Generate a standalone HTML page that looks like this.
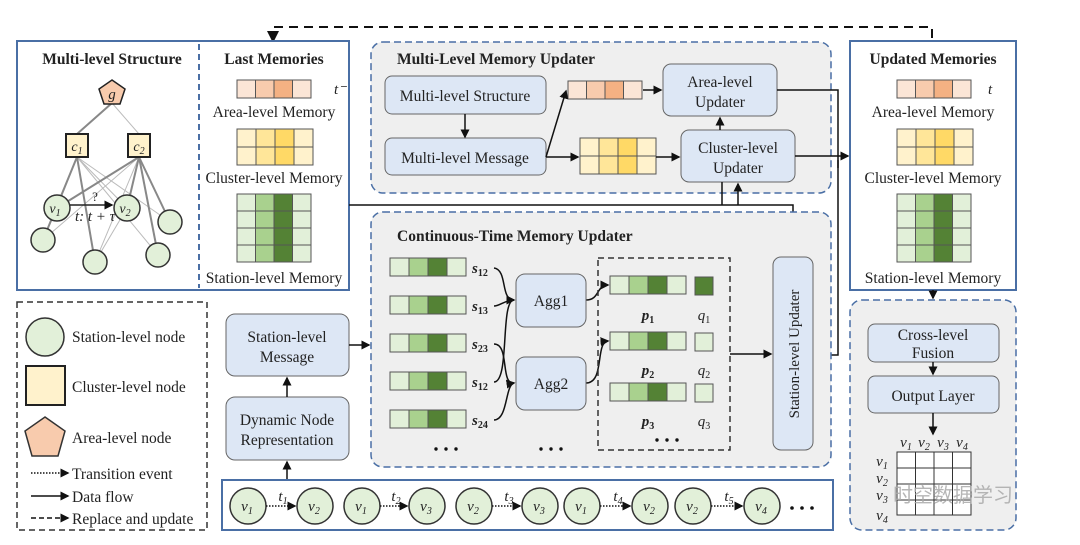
<!DOCTYPE html>
<html><head><meta charset="utf-8"><style>body{margin:0;background:#fff}svg{display:block}text{font-family:"Liberation Serif",serif;fill:#222}</style></head><body>
<svg width="1080" height="545" viewBox="0 0 1080 545" xmlns="http://www.w3.org/2000/svg">
<defs>
<marker id="a" markerWidth="6" markerHeight="6" refX="5" refY="3" orient="auto"><path d="M0,0L6,3L0,6z" fill="#111"/></marker>
<g id="gbar"><rect width="19" height="18" fill="#e2f0d9"/><rect x="19" width="19" height="18" fill="#a9d18e"/><rect x="38" width="19" height="18" fill="#548235"/><rect x="57" width="19" height="18" fill="#e2f0d9"/><path d="M0,0h76v18h-76zM19,0v18M38,0v18M57,0v18" fill="none" stroke="#555" stroke-width="1"/></g>
<g id="obar"><rect width="18.5" height="18" fill="#fbe5d6"/><rect x="18.5" width="18.5" height="18" fill="#f8cbad"/><rect x="37" width="18.5" height="18" fill="#f4b183"/><rect x="55.5" width="18.5" height="18" fill="#fbe5d6"/><path d="M0,0h74v18h-74zM18.5,0v18M37,0v18M55.5,0v18" fill="none" stroke="#555"/></g>
<g id="ybar"><rect width="19" height="36" fill="#fff2cc"/><rect x="19" width="19" height="36" fill="#ffe699"/><rect x="38" width="19" height="36" fill="#ffd966"/><rect x="57" width="19" height="36" fill="#fff2cc"/><path d="M0,0h76v36h-76zM19,0v36M38,0v36M57,0v36M0,18h76" fill="none" stroke="#555"/></g>
<g id="sgrid"><rect width="18.5" height="68" fill="#e2f0d9"/><rect x="18.5" width="18.5" height="68" fill="#a9d18e"/><rect x="37" width="18.5" height="68" fill="#548235"/><rect x="55.5" width="18.5" height="68" fill="#e2f0d9"/><path d="M0,0h74v68h-74zM18.5,0v68M37,0v68M55.5,0v68M0,17h74M0,34h74M0,51h74" fill="none" stroke="#555"/></g>
</defs>

<path d="M273,41V27H932V41" fill="none" stroke="#111" stroke-width="2" stroke-dasharray="9,6"/>
<path d="M273,33V41" stroke="#111" stroke-width="2" marker-end="url(#a)"/>

<rect x="17" y="41" width="332" height="249" fill="#fff" stroke="#4a6fa5" stroke-width="2"/>
<line x1="199" y1="44" x2="199" y2="288" stroke="#4a6fa5" stroke-width="2" stroke-dasharray="6,4"/>
<text x="112" y="64" font-size="15.5" font-weight="bold" text-anchor="middle">Multi-level Structure</text>
<text x="274" y="64" font-size="15.5" font-weight="bold" text-anchor="middle">Last Memories</text>
<g stroke="#bbb" stroke-width="1">
<line x1="77" y1="157" x2="57" y2="208"/><line x1="77" y1="157" x2="127" y2="208"/><line x1="77" y1="157" x2="158" y2="255"/><line x1="77" y1="157" x2="170" y2="222"/><line x1="139" y1="157" x2="43" y2="240"/><line x1="139" y1="157" x2="95" y2="262"/><line x1="139" y1="157" x2="57" y2="208"/><line x1="112" y1="103" x2="139" y2="134"/><line x1="57" y1="208" x2="43" y2="240"/><line x1="127" y1="208" x2="95" y2="262"/>
</g>
<g stroke="#888" stroke-width="2">
<line x1="112" y1="103" x2="77" y2="134"/><line x1="77" y1="157" x2="43" y2="240"/><line x1="77" y1="157" x2="95" y2="262"/><line x1="139" y1="157" x2="57" y2="208"/><line x1="139" y1="157" x2="127" y2="208"/><line x1="139" y1="157" x2="170" y2="222"/><line x1="139" y1="157" x2="158" y2="255"/>
</g>
<polygon points="112,80 125,89 120,104 104,104 99,89" fill="#f8cbad" stroke="#222" stroke-width="1.5"/>
<text x="112" y="99" font-size="15" font-style="italic" text-anchor="middle">g</text>
<rect x="66" y="134" width="22" height="23" fill="#fff2cc" stroke="#222" stroke-width="2"/>
<rect x="128" y="134" width="22" height="23" fill="#fff2cc" stroke="#222" stroke-width="2"/>
<text x="77" y="151" font-size="14" font-style="italic" text-anchor="middle">c<tspan font-size="10" dy="3">1</tspan></text>
<text x="139" y="151" font-size="14" font-style="italic" text-anchor="middle">c<tspan font-size="10" dy="3">2</tspan></text>
<g fill="#e2f0d9" stroke="#333" stroke-width="1.5">
<circle cx="57" cy="208" r="13"/><circle cx="127" cy="208" r="13"/><circle cx="43" cy="240" r="12"/><circle cx="95" cy="262" r="12"/><circle cx="158" cy="255" r="12"/><circle cx="170" cy="222" r="12"/>
</g>
<line x1="70" y1="205" x2="112" y2="205" stroke="#222" stroke-width="1.5" marker-end="url(#a)"/>
<text x="55" y="213" font-size="14" font-style="italic" text-anchor="middle">v<tspan font-size="10" dy="3">1</tspan></text>
<text x="125" y="213" font-size="14" font-style="italic" text-anchor="middle">v<tspan font-size="10" dy="3">2</tspan></text>
<text x="95" y="201" font-size="13" text-anchor="middle">?</text>
<text x="95" y="221" font-size="15" font-style="italic" text-anchor="middle">t: t + τ</text>
<use href="#obar" x="237" y="80"/>
<text x="334" y="94" font-size="15" font-style="italic">t⁻</text>
<text x="274" y="117" font-size="15.5" text-anchor="middle">Area-level Memory</text>
<use href="#ybar" x="237" y="129"/>
<text x="274" y="183" font-size="15.5" text-anchor="middle">Cluster-level Memory</text>
<use href="#sgrid" x="237" y="194"/>
<text x="274" y="283" font-size="15.5" text-anchor="middle">Station-level Memory</text>

<rect x="371" y="42" width="460" height="151" rx="12" fill="#efefef" stroke="#4a6fa5" stroke-width="1.5" stroke-dasharray="7,4"/>
<text x="397" y="64" font-size="15.5" font-weight="bold">Multi-Level Memory Updater</text>
<rect x="385" y="76" width="161" height="38" rx="7" fill="#dde7f5" stroke="#666"/>
<text x="465" y="101" font-size="15.5" text-anchor="middle">Multi-level Structure</text>
<rect x="385" y="138" width="161" height="37" rx="7" fill="#dde7f5" stroke="#666"/>
<text x="465" y="163" font-size="15.5" text-anchor="middle">Multi-level Message</text>
<line x1="465" y1="114" x2="465" y2="137" stroke="#111" stroke-width="1.5" marker-end="url(#a)"/>
<use href="#obar" x="568" y="81"/>
<use href="#ybar" x="580" y="138"/>
<path d="M546,157L566,91" stroke="#111" stroke-width="1.5" fill="none" marker-end="url(#a)"/>
<path d="M546,157H578" stroke="#111" stroke-width="1.5" marker-end="url(#a)"/>
<path d="M643,90H661" stroke="#111" stroke-width="1.5" marker-end="url(#a)"/>
<path d="M656,157H679" stroke="#111" stroke-width="1.5" marker-end="url(#a)"/>
<rect x="663" y="64" width="114" height="52" rx="8" fill="#dde7f5" stroke="#666"/>
<text x="720" y="87" font-size="15.5" text-anchor="middle">Area-level</text>
<text x="720" y="107" font-size="15.5" text-anchor="middle">Updater</text>
<rect x="681" y="130" width="114" height="52" rx="8" fill="#dde7f5" stroke="#666"/>
<text x="738" y="153" font-size="15.5" text-anchor="middle">Cluster-level</text>
<text x="738" y="173" font-size="15.5" text-anchor="middle">Updater</text>
<path d="M720,130V118" stroke="#111" stroke-width="1.5" marker-end="url(#a)"/>

<path d="M777,90H838V168" fill="none" stroke="#111" stroke-width="1.5"/>
<path d="M795,156H848" stroke="#111" stroke-width="1.5" marker-end="url(#a)"/>
<path d="M813,355H838V160" fill="none" stroke="#111" stroke-width="1.5"/>
<path d="M349,205H793V255" fill="none" stroke="#111" stroke-width="1.5" marker-end="url(#a)"/>
<path d="M722,205V182" stroke="#111" stroke-width="1.5"/>
<path d="M738,205V184" stroke="#111" stroke-width="1.5" marker-end="url(#a)"/>

<rect x="850" y="41" width="166" height="249" fill="#fff" stroke="#4a6fa5" stroke-width="2"/>
<text x="933" y="64" font-size="15.5" font-weight="bold" text-anchor="middle">Updated Memories</text>
<use href="#obar" x="897" y="80"/>
<text x="988" y="94" font-size="15" font-style="italic">t</text>
<text x="933" y="117" font-size="15.5" text-anchor="middle">Area-level Memory</text>
<use href="#ybar" x="897" y="129"/>
<text x="933" y="183" font-size="15.5" text-anchor="middle">Cluster-level Memory</text>
<use href="#sgrid" x="897" y="194"/>
<text x="933" y="283" font-size="15.5" text-anchor="middle">Station-level Memory</text>

<rect x="371" y="212" width="460" height="255" rx="12" fill="#efefef" stroke="#4a6fa5" stroke-width="1.5" stroke-dasharray="7,4"/>
<text x="397" y="241" font-size="15.5" font-weight="bold">Continuous-Time Memory Updater</text>
<use href="#gbar" x="390" y="258"/><use href="#gbar" x="390" y="296"/><use href="#gbar" x="390" y="334"/><use href="#gbar" x="390" y="372"/><use href="#gbar" x="390" y="410"/>
<g font-size="15" font-weight="bold" font-style="italic">
<text x="472" y="273">s<tspan font-size="10" dy="3" font-style="normal">12</tspan></text>
<text x="472" y="311">s<tspan font-size="10" dy="3" font-style="normal">13</tspan></text>
<text x="472" y="349">s<tspan font-size="10" dy="3" font-style="normal">23</tspan></text>
<text x="472" y="387">s<tspan font-size="10" dy="3" font-style="normal">12</tspan></text>
<text x="472" y="425">s<tspan font-size="10" dy="3" font-style="normal">24</tspan></text>
</g>
<g fill="none" stroke="#111" stroke-width="1.5">
<path d="M494,268C508,270 500,300 514,300" marker-end="url(#a)"/>
<path d="M494,306C500,306 505,300 514,300"/>
<path d="M494,344C510,344 500,385 514,383" marker-end="url(#a)"/>
<path d="M494,382C510,382 500,300 514,300"/>
<path d="M494,420C508,420 505,385 514,383"/>
<path d="M586,300C600,300 596,285 608,285" marker-end="url(#a)"/>
<path d="M586,383C605,383 595,342 608,341" marker-end="url(#a)"/>
</g>
<rect x="516" y="274" width="70" height="53" rx="9" fill="#dde7f5" stroke="#666"/>
<text x="551" y="306" font-size="15.5" text-anchor="middle">Agg1</text>
<rect x="516" y="357" width="70" height="53" rx="9" fill="#dde7f5" stroke="#666"/>
<text x="551" y="389" font-size="15.5" text-anchor="middle">Agg2</text>
<rect x="598" y="258" width="132" height="192" fill="none" stroke="#333" stroke-width="1.5" stroke-dasharray="6,4"/>
<use href="#gbar" x="610" y="276"/><use href="#gbar" x="610" y="332"/><use href="#gbar" x="610" y="383"/>
<rect x="695" y="277" width="18" height="18" fill="#548235" stroke="#555"/>
<rect x="695" y="333" width="18" height="18" fill="#e2f0d9" stroke="#555"/>
<rect x="695" y="384" width="18" height="18" fill="#e2f0d9" stroke="#555"/>
<g font-size="15" font-style="italic" text-anchor="middle">
<text x="648" y="320" font-weight="bold">p<tspan font-size="10" dy="3" font-style="normal">1</tspan></text>
<text x="648" y="375" font-weight="bold">p<tspan font-size="10" dy="3" font-style="normal">2</tspan></text>
<text x="648" y="426" font-weight="bold">p<tspan font-size="10" dy="3" font-style="normal">3</tspan></text>
<text x="704" y="320">q<tspan font-size="10" dy="3" font-style="normal">1</tspan></text>
<text x="704" y="375">q<tspan font-size="10" dy="3" font-style="normal">2</tspan></text>
<text x="704" y="426">q<tspan font-size="10" dy="3" font-style="normal">3</tspan></text>
</g>
<g fill="#111"><circle cx="657" cy="440" r="1.7"/><circle cx="667" cy="440" r="1.7"/><circle cx="677" cy="440" r="1.7"/>
<circle cx="436" cy="449" r="1.7"/><circle cx="446" cy="449" r="1.7"/><circle cx="456" cy="449" r="1.7"/>
<circle cx="541" cy="449" r="1.7"/><circle cx="551" cy="449" r="1.7"/><circle cx="561" cy="449" r="1.7"/></g>
<path d="M730,354H771" stroke="#111" stroke-width="1.5" marker-end="url(#a)"/>
<rect x="773" y="257" width="40" height="193" rx="8" fill="#dde7f5" stroke="#666"/>
<text transform="translate(799,354) rotate(-90)" font-size="15" text-anchor="middle">Station-level Updater</text>

<rect x="17" y="302" width="190" height="228" fill="#fff" stroke="#333" stroke-width="1.5" stroke-dasharray="6,4"/>
<circle cx="45" cy="337" r="19" fill="#e2f0d9" stroke="#333" stroke-width="1.5"/>
<text x="72" y="342" font-size="15.5">Station-level node</text>
<rect x="26" y="366" width="39" height="39" fill="#fff2cc" stroke="#222" stroke-width="2"/>
<text x="72" y="392" font-size="15.5">Cluster-level node</text>
<polygon points="45,417 65,431 58,456 32,456 25,431" fill="#f8cbad" stroke="#333" stroke-width="1.5"/>
<text x="72" y="443" font-size="15.5">Area-level node</text>
<path d="M31,473H68" stroke="#111" stroke-width="1.5" stroke-dasharray="1.5,1.5" marker-end="url(#a)"/>
<text x="72" y="479" font-size="15.5">Transition event</text>
<path d="M31,496H68" stroke="#111" stroke-width="1.5" marker-end="url(#a)"/>
<text x="72" y="502" font-size="15.5">Data flow</text>
<path d="M31,518H68" stroke="#111" stroke-width="1.5" stroke-dasharray="5,3" marker-end="url(#a)"/>
<text x="72" y="524" font-size="15.5">Replace and update</text>

<rect x="226" y="314" width="123" height="62" rx="9" fill="#dde7f5" stroke="#666"/>
<text x="287" y="342" font-size="15.5" text-anchor="middle">Station-level</text>
<text x="287" y="362" font-size="15.5" text-anchor="middle">Message</text>
<rect x="226" y="397" width="123" height="63" rx="9" fill="#dde7f5" stroke="#666"/>
<text x="287" y="425" font-size="15.5" text-anchor="middle">Dynamic Node</text>
<text x="287" y="445" font-size="15.5" text-anchor="middle">Representation</text>
<path d="M287,397V378" stroke="#111" stroke-width="1.5" marker-end="url(#a)"/>
<path d="M287,480V462" stroke="#111" stroke-width="1.5" marker-end="url(#a)"/>
<path d="M349,345H369" stroke="#111" stroke-width="1.5" marker-end="url(#a)"/>

<rect x="222" y="480" width="611" height="50" fill="#fff" stroke="#4a6fa5" stroke-width="2"/>
<g fill="#e2f0d9" stroke="#333" stroke-width="1.5">
<circle cx="248" cy="506" r="18"/><circle cx="315" cy="506" r="18"/><circle cx="362" cy="506" r="18"/><circle cx="427" cy="506" r="18"/><circle cx="474" cy="506" r="18"/><circle cx="540" cy="506" r="18"/><circle cx="582" cy="506" r="18"/><circle cx="650" cy="506" r="18"/><circle cx="693" cy="506" r="18"/><circle cx="762" cy="506" r="18"/>
</g>
<g font-size="15" font-style="italic" text-anchor="middle">
<text x="247" y="511">v<tspan font-size="10" dy="3">1</tspan></text><text x="314" y="511">v<tspan font-size="10" dy="3">2</tspan></text><text x="361" y="511">v<tspan font-size="10" dy="3">1</tspan></text><text x="426" y="511">v<tspan font-size="10" dy="3">3</tspan></text><text x="473" y="511">v<tspan font-size="10" dy="3">2</tspan></text><text x="539" y="511">v<tspan font-size="10" dy="3">3</tspan></text><text x="581" y="511">v<tspan font-size="10" dy="3">1</tspan></text><text x="649" y="511">v<tspan font-size="10" dy="3">2</tspan></text><text x="692" y="511">v<tspan font-size="10" dy="3">2</tspan></text><text x="761" y="511">v<tspan font-size="10" dy="3">4</tspan></text>
<text x="283" y="501">t<tspan font-size="10" dy="3">1</tspan></text><text x="396" y="501">t<tspan font-size="10" dy="3">2</tspan></text><text x="509" y="501">t<tspan font-size="10" dy="3">3</tspan></text><text x="618" y="501">t<tspan font-size="10" dy="3">4</tspan></text><text x="729" y="501">t<tspan font-size="10" dy="3">5</tspan></text>
</g>
<g stroke="#111" stroke-width="1.5" stroke-dasharray="1.5,1.5">
<path d="M266,506H295" marker-end="url(#a)"/><path d="M380,506H407" marker-end="url(#a)"/><path d="M492,506H520" marker-end="url(#a)"/><path d="M600,506H630" marker-end="url(#a)"/><path d="M711,506H742" marker-end="url(#a)"/>
</g>
<g fill="#111"><circle cx="792" cy="508" r="1.8"/><circle cx="802" cy="508" r="1.8"/><circle cx="812" cy="508" r="1.8"/></g>

<path d="M933,290V298" stroke="#111" stroke-width="1.5" marker-end="url(#a)"/>
<rect x="850" y="300" width="166" height="230" rx="12" fill="#efefef" stroke="#4a6fa5" stroke-width="1.5" stroke-dasharray="7,4"/>
<rect x="868" y="324" width="131" height="38" rx="7" fill="#dde7f5" stroke="#666"/>
<text x="933" y="340" font-size="15.5" text-anchor="middle">Cross-level</text>
<text x="933" y="358" font-size="15.5" text-anchor="middle">Fusion</text>
<path d="M933,362V374" stroke="#111" stroke-width="1.5" marker-end="url(#a)"/>
<rect x="868" y="376" width="131" height="37" rx="7" fill="#dde7f5" stroke="#666"/>
<text x="933" y="401" font-size="15.5" text-anchor="middle">Output Layer</text>
<path d="M933,413V434" stroke="#111" stroke-width="1.5" marker-end="url(#a)"/>
<path d="M897,452h74v63h-74zM915.5,452v63M934,452v63M952.5,452v63M897,468h74M897,484h74M897,500h74" fill="#fff" stroke="#333" stroke-width="1"/>
<g font-size="15" font-style="italic" text-anchor="middle">
<text x="906" y="447">v<tspan font-size="10" dy="3">1</tspan></text><text x="924" y="447">v<tspan font-size="10" dy="3">2</tspan></text><text x="943" y="447">v<tspan font-size="10" dy="3">3</tspan></text><text x="962" y="447">v<tspan font-size="10" dy="3">4</tspan></text>
<text x="882" y="466">v<tspan font-size="10" dy="3">1</tspan></text><text x="882" y="483">v<tspan font-size="10" dy="3">2</tspan></text><text x="882" y="500">v<tspan font-size="10" dy="3">3</tspan></text><text x="882" y="520">v<tspan font-size="10" dy="3">4</tspan></text>
</g>
<text x="893" y="502" font-size="20" style="fill:#aaa;font-family:'Liberation Sans','Noto Sans CJK SC',sans-serif" opacity="0.85">时空数据学习</text>
</svg>
</body></html>
